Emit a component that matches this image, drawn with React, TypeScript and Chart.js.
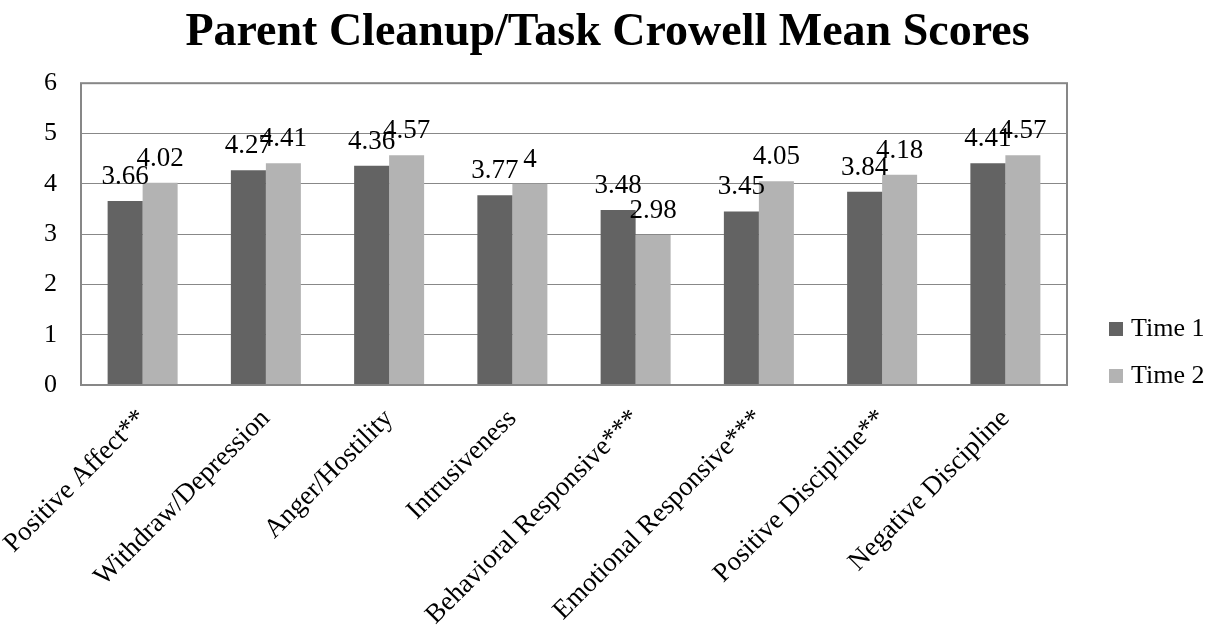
import React, { useEffect, useRef } from "react";
import { Chart, registerables } from "chart.js";

Chart.register(...registerables);

const categories = [
  "Positive Affect**",
  "Withdraw/Depression",
  "Anger/Hostility",
  "Intrusiveness",
  "Behavioral Responsive***",
  "Emotional Responsive***",
  "Positive Discipline**",
  "Negative Discipline",
];
const time1 = [3.66, 4.27, 4.36, 3.77, 3.48, 3.45, 3.84, 4.41];
const time2 = [4.02, 4.41, 4.57, 4, 2.98, 4.05, 4.18, 4.57];
const seriesNames = ["Time 1", "Time 2"];
const seriesColors = ["#636363", "#b3b3b3"];
const yTicks = [0, 1, 2, 3, 4, 5, 6];

const FONT = "'Liberation Serif', 'DejaVu Serif', serif";

const framePlugin = {
  id: "frame",
  afterDatasetsDraw(chart: any) {
    const { ctx, chartArea } = chart;
    ctx.save();
    ctx.strokeStyle = "#878787";
    ctx.lineWidth = 2;
    ctx.strokeRect(chartArea.left, chartArea.top, chartArea.right - chartArea.left, chartArea.bottom - chartArea.top);
    ctx.restore();
  },
};

const valueLabelPlugin = {
  id: "valueLabels",
  afterDatasetsDraw(chart: any) {
    const { ctx } = chart;
    ctx.save();
    ctx.font = `27px ${FONT}`;
    ctx.fillStyle = "#000";
    ctx.textAlign = "center";
    ctx.textBaseline = "alphabetic";
    chart.data.datasets.forEach((ds: any, di: number) => {
      const meta = chart.getDatasetMeta(di);
      meta.data.forEach((el: any, i: number) => {
        ctx.fillText(String(ds.data[i]), el.x, el.y - 17);
      });
    });
    ctx.restore();
  },
};

const legendPlugin = {
  id: "customLegend",
  afterDraw(chart: any) {
    const { ctx, chartArea } = chart;
    ctx.save();
    ctx.font = `26px ${FONT}`;
    ctx.textAlign = "left";
    ctx.textBaseline = "alphabetic";
    const baselines = [chartArea.bottom - 49, chartArea.bottom - 2];
    seriesNames.forEach((name, i) => {
      const by = baselines[i];
      ctx.fillStyle = seriesColors[i];
      ctx.fillRect(chartArea.right + 42, by - 14, 14, 14);
      ctx.fillStyle = "#000";
      ctx.fillText(name, chartArea.right + 64, by);
    });
    ctx.restore();
  },
};

export default function App() {
  const canvasRef = useRef<HTMLCanvasElement | null>(null);

  useEffect(() => {
    document.body.style.margin = "0";
    const canvas = canvasRef.current;
    if (!canvas) return;
    const chart = new Chart(canvas, {
      type: "bar",
      data: {
        labels: categories,
        datasets: [
          { label: seriesNames[0], data: time1, backgroundColor: seriesColors[0], yAxisID: "y" },
          { label: seriesNames[1], data: time2, backgroundColor: seriesColors[1], yAxisID: "y" },
        ],
      },
      options: {
        animation: false,
        responsive: true,
        maintainAspectRatio: false,
        categoryPercentage: 0.568,
        barPercentage: 1,
        layout: { padding: 0 },
        plugins: {
          legend: { display: false },
          tooltip: { enabled: false },
          title: {
            display: true,
            text: "Parent Cleanup/Task Crowell Mean Scores",
            color: "#000",
            font: { family: FONT, size: 46, weight: "bold" },
            padding: { top: 6, bottom: 22 },
          },
        },
        scales: {
          x: {
            grid: { display: false },
            border: { display: false },
            ticks: {
              color: "#000",
              font: { family: FONT, size: 27 },
              minRotation: 45,
              maxRotation: 45,
              autoSkip: false,
              padding: 10,
            },
            afterFit(scale: any) {
              scale.height = 243;
              scale.paddingLeft = 0;
              scale.paddingRight = 0;
            },
          },
          y: {
            position: "left",
            min: 0,
            max: 6,
            grid: { color: "#888888", lineWidth: 1, drawTicks: false },
            border: { display: false },
            ticks: {
              color: "#000",
              font: { family: FONT, size: 26 },
              stepSize: 1,
              padding: 24,
              callback: (v: any) => (yTicks.includes(Number(v)) ? String(v) : ""),
            },
            afterFit(scale: any) {
              scale.width = 81;
            },
          },
          yR: {
            position: "right",
            min: 0,
            max: 6,
            grid: { display: false },
            border: { display: false },
            ticks: { display: false },
            afterFit(scale: any) {
              scale.width = 148;
            },
          },
        },
      },
      plugins: [framePlugin, valueLabelPlugin, legendPlugin],
    });
    return () => chart.destroy();
  }, []);

  return (
    <div style={{ width: "1215px", height: "628px", position: "relative" }}>
      <canvas ref={canvasRef} />
    </div>
  );
}
